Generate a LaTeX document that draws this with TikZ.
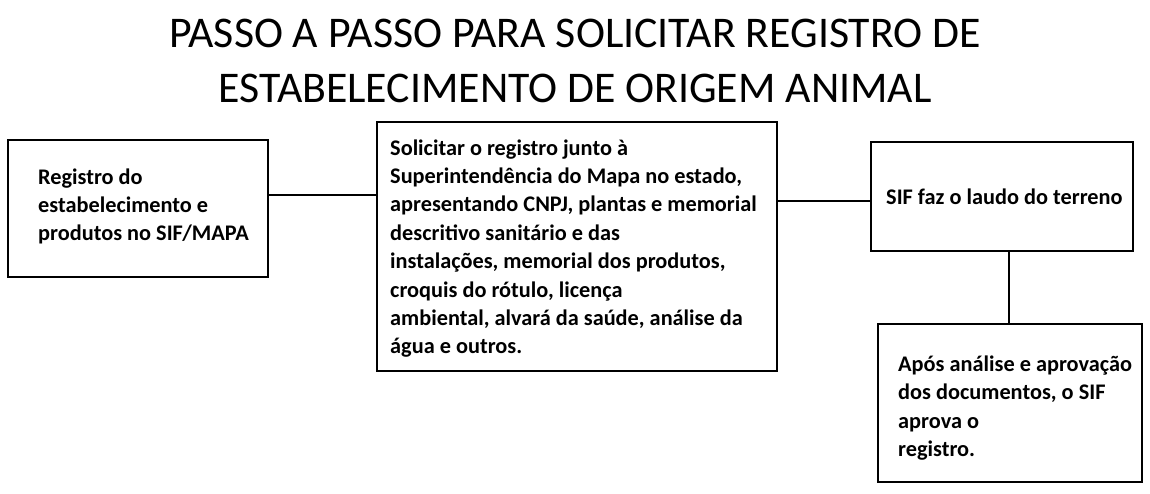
\documentclass[tikz,border=0pt]{standalone}
\usepackage{fontspec}
\setmainfont{Carlito}
\begin{document}
\begin{tikzpicture}[x=1pt,y=-1pt,
  stepbox/.style={draw=black, line width=2.8pt, inner sep=0pt, outer sep=0pt},
  steptext/.style={anchor=west, align=left, inner sep=0pt,
    font=\bfseries\fontsize{22.3}{28.4}\selectfont},
  link/.style={line width=2.8pt}]
\useasboundingbox (0,0) rectangle (1150,493);
% Title
\node[align=center, font=\fontsize{43.8}{55}\selectfont] (title) at (575,60.5)
  {PASSO A PASSO PARA SOLICITAR REGISTRO DE\\ESTABELECIMENTO DE ORIGEM ANIMAL};

% Step boxes
\node[stepbox, minimum width=260pt, minimum height=137pt] (reg) at (138,208.5) {};
\node[stepbox, minimum width=400pt, minimum height=249pt] (sol) at (577,246.5) {};
\node[stepbox, minimum width=262pt, minimum height=109pt] (laudo) at (1002,196.5) {};
\node[stepbox, minimum width=264pt, minimum height=158pt] (aprov) at (1010,403) {};

% Step texts
\node[steptext] (regtext) at ([xshift=30pt,yshift=2pt]reg.west)
  {Registro do\\estabelecimento e\\produtos no SIF/MAPA};
\node[steptext] (soltext) at ([xshift=13pt,yshift=-2pt]sol.west)
  {Solicitar o registro junto à\\Superintendência do Mapa no estado,\\apresentando CNPJ, plantas e memorial\\descritivo sanitário e das\\instalações, memorial dos produtos,\\croquis do rótulo, licença\\ambiental, alvará da saúde, análise da\\água e outros.};
\node[steptext] (laudotext) at ([xshift=15pt]laudo.west)
  {SIF faz o laudo do terreno};
\node[steptext] (aprovtext) at ([xshift=20pt,yshift=-5pt]aprov.west)
  {Após análise e aprovação\\dos documentos, o SIF\\aprova o\\registro.};

% Connectors
\draw[link] ([yshift=13.5pt]reg.east) -- ([yshift=13.5pt]reg.east -| sol.west);
\draw[link] ([yshift=-4.5pt]laudo.west -| sol.east) -- ([yshift=-4.5pt]laudo.west);
\draw[link] ([xshift=7pt]laudo.south) -- ([xshift=7pt]laudo.south |- aprov.north);
\end{tikzpicture}
\end{document}
